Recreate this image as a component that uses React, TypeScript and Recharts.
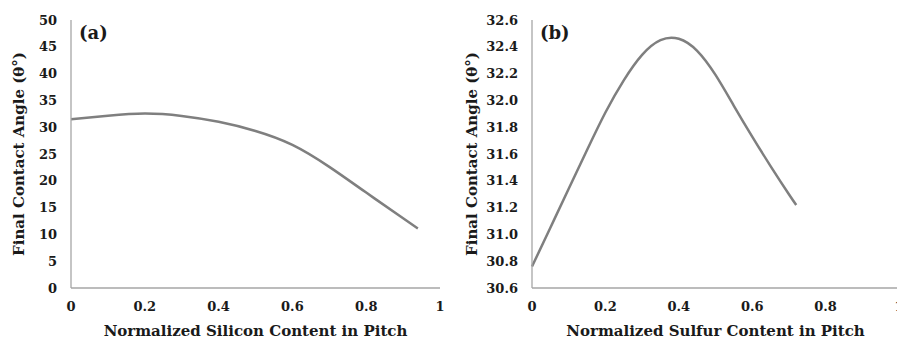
import { LineChart, Line, XAxis, YAxis } from "recharts";

// panel (a): silicon content
const siliconX = [0, 0.1, 0.2, 0.3, 0.4, 0.5, 0.6, 0.7, 0.8, 0.9, 0.94];
const siliconAngle = [31.5, 32.15, 32.55, 32.1, 31.0, 29.3, 26.7, 22.6, 17.8, 13.0, 11.1];

// panel (b): sulfur content
const sulfurX = [0, 0.05, 0.1, 0.15, 0.2, 0.25, 0.3, 0.35, 0.4, 0.45, 0.5, 0.55, 0.6, 0.65, 0.7, 0.72];
const sulfurAngle = [30.76, 31.05, 31.34, 31.63, 31.91, 32.15, 32.34, 32.45, 32.46, 32.37, 32.19, 31.96, 31.73, 31.51, 31.3, 31.22];

const xTicks = [0, 0.2, 0.4, 0.6, 0.8, 1];
const siliconYTicks = [0, 5, 10, 15, 20, 25, 30, 35, 40, 45, 50];
const sulfurYTicks = [30.6, 30.8, 31.0, 31.2, 31.4, 31.6, 31.8, 32.0, 32.2, 32.4, 32.6];

const yLabel = "Final Contact Angle (θ°)";

const font = "'DejaVu Serif', serif";
const textColor = "#1a1a1a";
const lineColor = "#7f7f7f";
const boxColor = "#a6a6a6";

const tickStyle = { fontFamily: font, fontWeight: 700, fontSize: 13, fill: textColor };
const labelStyle = { fontFamily: font, fontWeight: 700, fontSize: 15, fill: textColor, textAnchor: "middle" as const };

interface PanelProps {
  xs: number[];
  ys: number[];
  yDomain: [number, number];
  yTicks: number[];
  yFormat: (v: number) => string;
  yAxisWidth: number;
  yLabelOffset: number;
  width: number;
  rightMargin: number;
  xLabel: string;
  tag: string;
}

function Panel({ xs, ys, yDomain, yTicks, yFormat, yAxisWidth, yLabelOffset, width, rightMargin, xLabel, tag }: PanelProps) {
  const data = xs.map((x, i) => ({ x, y: ys[i] }));
  return (
    <div style={{ position: "relative", width, height: 341 }}>
      <LineChart width={width} height={341} data={data} margin={{ top: 20, right: rightMargin, left: 0, bottom: 0 }}>
        <XAxis
          dataKey="x"
          type="number"
          domain={[0, 1]}
          ticks={xTicks}
          interval={0}
          tickLine={false}
          tickSize={0}
          tickMargin={14}
          axisLine={{ stroke: boxColor, strokeWidth: 1.3 }}
          tick={tickStyle}
          height={53}
          label={{ value: xLabel, position: "insideBottom", offset: 5, style: labelStyle }}
        />
        <XAxis xAxisId="top" orientation="top" type="number" domain={[0, 1]} tick={false} tickLine={false} height={0} axisLine={{ stroke: boxColor, strokeWidth: 1.3 }} />
        <YAxis
          type="number"
          domain={yDomain}
          ticks={yTicks}
          interval={0}
          tickFormatter={yFormat}
          tickLine={false}
          tickSize={0}
          tickMargin={14}
          axisLine={{ stroke: boxColor, strokeWidth: 1.3 }}
          tick={tickStyle}
          width={yAxisWidth}
          label={{ value: yLabel, angle: -90, position: "insideLeft", offset: yLabelOffset, style: labelStyle }}
        />
        <YAxis yAxisId="right" orientation="right" tick={false} tickLine={false} width={0} axisLine={{ stroke: boxColor, strokeWidth: 1.3 }} />
        <Line type="natural" dataKey="y" stroke={lineColor} strokeWidth={2.5} dot={false} isAnimationActive={false} />
      </LineChart>
      <div
        style={{
          position: "absolute",
          left: yAxisWidth + 8,
          top: 24,
          fontFamily: font,
          fontWeight: 700,
          fontSize: 18,
          color: textColor,
          lineHeight: 1,
        }}
      >
        {tag}
      </div>
    </div>
  );
}

export default function App() {
  return (
    <div style={{ position: "absolute", left: 0, top: 0, width: 897, height: 341, overflow: "hidden", background: "#fff" }}>
      <div style={{ position: "absolute", left: 0, top: 0 }}>
        <Panel
          xs={siliconX}
          ys={siliconAngle}
          yDomain={[0, 50]}
          yTicks={siliconYTicks}
          yFormat={(v) => String(v)}
          yAxisWidth={71}
          yLabelOffset={19}
          width={450}
          rightMargin={10}
          xLabel="Normalized Silicon Content in Pitch"
          tag="(a)"
        />
      </div>
      <div style={{ position: "absolute", left: 450, top: 0 }}>
        <Panel
          xs={sulfurX}
          ys={sulfurAngle}
          yDomain={[30.6, 32.6]}
          yTicks={sulfurYTicks}
          yFormat={(v) => v.toFixed(1)}
          yAxisWidth={82}
          yLabelOffset={22}
          width={449}
          rightMargin={0}
          xLabel="Normalized Sulfur Content in Pitch"
          tag="(b)"
        />
      </div>
    </div>
  );
}
